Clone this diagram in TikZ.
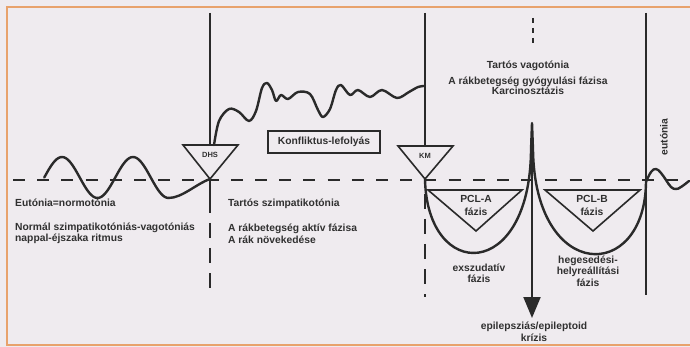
\documentclass[tikz,border=0pt]{standalone}
\usepackage{fontspec}
\setmainfont{Liberation Sans}
\usetikzlibrary{arrows.meta}
\definecolor{bg}{HTML}{EFEBEF}
\definecolor{ink}{HTML}{2A2A2A}
\definecolor{txt}{HTML}{303030}
\definecolor{framecol}{HTML}{E8A26C}
\begin{document}
\begin{tikzpicture}[x=1pt,y=-1pt,
  lbl/.style={font=\bfseries\fontsize{10.3}{11.5}\selectfont, text=txt, inner sep=0pt},
  small/.style={font=\bfseries\fontsize{7.5}{8}\selectfont, text=txt, inner sep=0pt},
  vline/.style={draw=ink, line width=1.6pt},
  tri/.style={draw=ink, line width=1.6pt, line join=miter},
  curve/.style={draw=ink, line width=2.4pt, line join=round, line cap=round},
  hdash/.style={draw=ink, line width=2pt, dash pattern=on 12pt off 12.2pt},
  vdash/.style={draw=ink, line width=1.8pt, dash pattern=on 15pt off 10pt},
  dotline/.style={draw=ink, line width=2.6pt, dash pattern=on 5pt off 5pt},
  boxed/.style={draw=ink, line width=1.4pt, minimum width=112pt, minimum height=22pt, inner sep=0pt},
  frameline/.style={draw=framecol, line width=2pt}]
\fill[bg] (0,0) rectangle (690,347);
\useasboundingbox (0,0) rectangle (690,347);
% frame
\draw[frameline] (690,7) -- (7,7) -- (7,345) -- (690,345);

% key coordinates
\coordinate (dhsTop) at (210,13);
\coordinate (dhsA) at (210,179);
\coordinate (kmTop) at (425,13);
\coordinate (kmA) at (425,179);
\coordinate (spike) at (532,123);
\coordinate (tip) at (532,318);
\coordinate (rTop) at (646,13);
\coordinate (rBot) at (646,295);

% baseline
\draw[hdash] (13,180) -- (690,180);

% DHS marker
\draw[vline] (dhsTop) -- (210,145);
\draw[tri] (183,145) -- (238,145) -- (dhsA) -- cycle;
\node[small] (dhs) at (210,155) {DHS};
\draw[vline] (dhsA) -- (210,198);
\draw[vdash] (210,198) -- (210,296);

% KM marker
\draw[vline] (kmTop) -- (425,146);
\draw[tri] (398,146) -- (453,146) -- (kmA) -- cycle;
\node[small] (km) at (425,156) {KM};
\draw[vdash] (425,194) -- (425,297);

% right line
\draw[vline] (rTop) -- (rBot);

% left sine wave
\draw[curve] plot[domain=44.25:168.5, samples=70, smooth] (\x, {177.5-20.5*sin((\x-44.25)*5.0704)});
\draw[curve] (168.5,198) .. controls (182,198) and (196,184) .. (dhsA);

% conflict curve
\draw[curve] plot[smooth, tension=0.55] coordinates {(214,145) (219,121) (229,109) (239,112) (249,121) (256,111) (262,88) (267,83) (272,90) (276,101) (281,95) (288,99) (298,92) (310,94) (318,110) (323,117) (330,109) (336,90) (341,85) (350,95) (358,90) (370,97) (382,90) (397,98) (409,92) (418,87) (424,86)};

% U curves and spike
\draw[curve] (kmA) .. controls (427,282) and (530,282) .. (531,150) -- (spike) -- (533,150) .. controls (535,283) and (645,283) .. (646,182);

% eutonia wave
\draw[curve] plot[smooth, tension=0.7] coordinates {(646,182) (651,172) (656,169) (661,173) (666,180) (671,187) (676,189) (681,187) (689,181)};

% PCL triangles
\draw[tri] (428,190) -- (522,190) -- (476,231) -- cycle;
\draw[tri] (545,190) -- (640,190) -- (593,231) -- cycle;

% arrow and dots
\draw[ink, line width=2pt, -{Triangle[width=17pt,length=21pt]}] (spike) -- (tip);
\draw[dotline] (533,18) -- (533,44);

% conflict box
\node[boxed, lbl] (konf) at (324,142) {Konfliktus-lefolyás};

% texts left
\node[lbl, anchor=base west] (eu) at (15,206.5) {Eutónia=normotónia};
\node[lbl, anchor=base west] (norm1) at (15,230.5) {Normál szimpatikotóniás-vagotóniás};
\node[lbl, anchor=base west] (norm2) at (15,241.5) {nappal-éjszaka ritmus};
% texts middle
\node[lbl, anchor=base west] (sz) at (228,206.5) {Tartós szimpatikotónia};
\node[lbl, anchor=base west] (akt1) at (228,231.5) {A rákbetegség aktív fázisa};
\node[lbl, anchor=base west] (akt2) at (228,243.5) {A rák növekedése};
% texts right top
\node[lbl, anchor=base] (vag) at (528,68.5) {Tartós vagotónia};
\node[lbl, anchor=base] (gy1) at (528,84.5) {A rákbetegség gyógyulási fázisa};
\node[lbl, anchor=base] (gy2) at (528,95) {Karcinosztázis};
% PCL labels
\node[lbl, anchor=base] (pa1) at (476,203) {PCL-A};
\node[lbl, anchor=base] (pa2) at (476,216) {fázis};
\node[lbl, anchor=base] (pb1) at (592,203) {PCL-B};
\node[lbl, anchor=base] (pb2) at (592,216) {fázis};
% phase labels
\node[lbl, anchor=base] (ex1) at (479,271.5) {exszudatív};
\node[lbl, anchor=base] (ex2) at (479,282.5) {fázis};
\node[lbl, anchor=base] (he1) at (588,263) {hegesedési-};
\node[lbl, anchor=base] (he2) at (588,274) {helyreállítási};
\node[lbl, anchor=base] (he3) at (588,286) {fázis};
\node[lbl, anchor=base] (ep1) at (534,329) {epilepsziás/epileptoid};
\node[lbl, anchor=base] (ep2) at (534,341) {krízis};
% eutonia rotated
\node[lbl, rotate=90] (eut) at (664,137) {eutónia};
\end{tikzpicture}
\end{document}
